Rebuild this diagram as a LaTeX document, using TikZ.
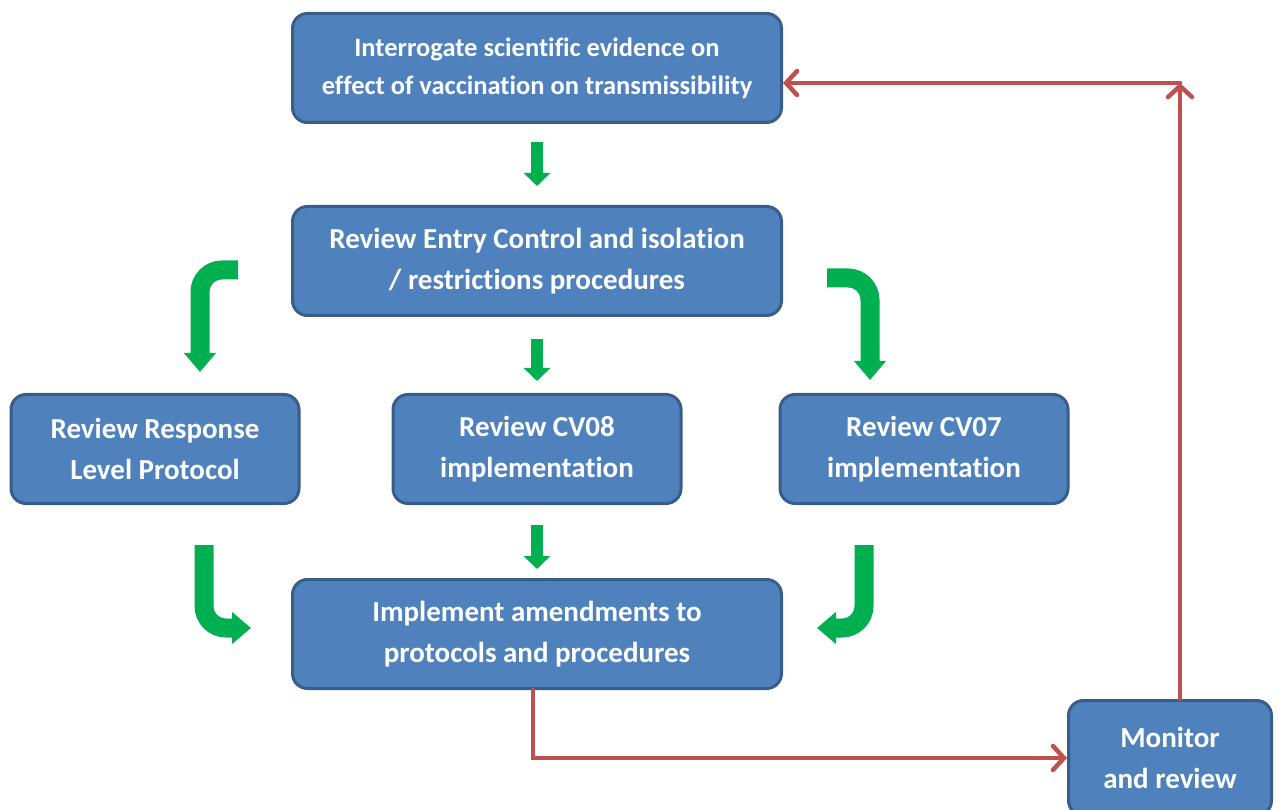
\documentclass[tikz,border=0pt]{standalone}
\usepackage{fontspec}
\setmainfont[Ligatures={NoCommon}]{Carlito}
\usetikzlibrary{arrows.meta}
\definecolor{boxfill}{HTML}{4F81BD}
\definecolor{boxline}{HTML}{385D8A}
\definecolor{flowgreen}{HTML}{00B050}
\definecolor{loopred}{HTML}{C0504D}

\begin{document}
\begin{tikzpicture}[
      x=1pt, y=-1pt,
      every node/.style={rectangle, rounded corners=15pt, draw=boxline, line width=3pt,
        fill=boxfill, text=white, align=center, font=\bfseries\fontsize{29}{41}\selectfont},
      wide/.style={minimum width=489pt, minimum height=109pt},
      narrow/.style={minimum width=288pt, minimum height=109pt},
      down/.style={draw=flowgreen, line width=12pt, -{Triangle[width=26pt, length=13pt]}},
      bent/.style={draw=flowgreen, line width=19pt, rounded corners=22pt,
        -{Triangle[width=31pt, length=19pt]}},
      back/.style={draw=loopred, line width=4.5pt, line cap=round,
        -{Straight Barb[length=11pt, width=24pt, line cap=round]}}
    ]
    \useasboundingbox (0,0) rectangle (1278,810);
    % boxes
    \node[wide, font=\bfseries\fontsize{26.5}{38}\selectfont] (top) at (537,68)
      {Interrogate scientific evidence on\\effect of vaccination on transmissibility};
    \node[wide] (entry) at (537,261) {Review Entry Control and isolation\\/ restrictions procedures};
    \node[narrow] (resp) at (155,449) {Review Response\\Level Protocol};
    \node[narrow] (cv08) at (537,449) {Review CV08\\implementation};
    \node[narrow] (cv07) at (924,449) {Review CV07\\implementation};
    \node[wide] (impl) at (537,634) {Implement amendments to\\protocols and procedures};
    \node[minimum width=203pt, minimum height=115pt] (mon) at (1170,758) {Monitor\\and review};

    % green flow
    \draw[down, shorten <=18pt, shorten >=19pt] (top) -- (entry);
    \draw[down, shorten <=22pt, shorten >=12pt] (entry) -- (cv08);
    \draw[down, shorten <=20pt, shorten >=9pt] (cv08) -- (impl);
    \draw[bent] ([shift={(-53,9)}]entry.west) -| ([shift={(45,-21)}]resp.north);
    \draw[bent] ([shift={(44,17)}]entry.east) -| ([shift={(-54,-13)}]cv07.north);
    \draw[bent] ([shift={(49,40)}]resp.south) |- ([shift={(-40,-6)}]impl.west);
    \draw[bent] ([shift={(-60,40)}]cv07.south) |- ([shift={(34,-6)}]impl.east);

    % feedback loop
    \coordinate (turn) at (1180,83);
    \draw[back] ([xshift=-4pt]impl.south) |- (mon.west);
    \draw[back] ([xshift=10pt]mon.north) -- (turn);
    \draw[back] (turn) -- (turn -| top.east);
  \end{tikzpicture}
\end{document}
